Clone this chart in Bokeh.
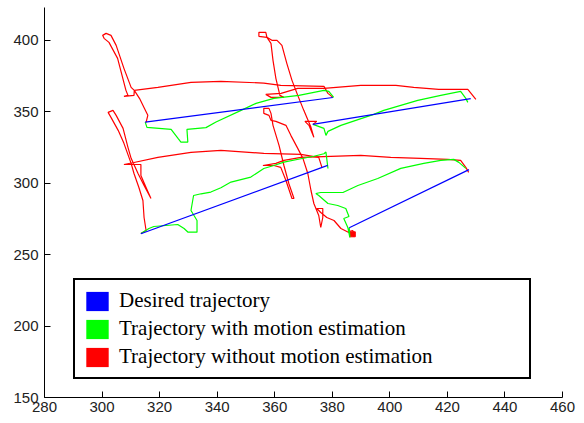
from bokeh.plotting import figure
from bokeh.models import Range1d, FixedTicker, Legend, LegendItem
from bokeh.embed import file_html
from bokeh.resources import INLINE

# ---------------- data ----------------
x_ticks = [280, 300, 320, 340, 360, 380, 400, 420, 440, 460]
y_ticks = [150, 200, 250, 300, 350, 400]

labels = ["Desired trajectory",
          "Trajectory with motion estimation",
          "Trajectory without motion estimation"]

# Desired trajectories (blue)
blue1_x = [315.0, 380.2]
blue1_y = [342.8, 360.0]
blue2_x = [373.2, 428.1]
blue2_y = [341.2, 359.2]
blue3_x = [313.5, 378.4]
blue3_y = [264.6, 312.5]
blue4_x = [385.9, 427.5]
blue4_y = [268.8, 309.5]

# Trajectories with motion estimation (green)
green1_x = [315.0, 315.6, 324.0, 326.4, 327.4, 329.8, 329.5, 336.1, 339.6, 348.3,
            353.5, 359.7, 368.4, 377.1, 378.8, 380.5]
green1_y = [342.8, 339.1, 337.7, 331.4, 328.8, 328.8, 337.7, 338.9, 342.8, 351.0,
            355.9, 359.4, 361.5, 365.0, 364.3, 360.1]
green2_x = [373.3, 377.1, 377.8, 378.5, 383.0, 394.4, 397.9, 409.7, 417.7, 424.6,
            426.4, 427.1]
green2_y = [341.2, 338.4, 333.5, 336.3, 340.5, 348.2, 351.0, 358.0, 361.5, 364.3,
            359.4, 356.6]
green3_x = [313.5, 316.3, 318.0, 326.3, 328.5, 329.9, 333.0, 333.0, 330.9, 331.8,
            334.4, 337.8, 341.3, 344.8, 351.7, 356.2, 359.7, 363.2, 369.1, 373.6,
            377.1, 377.8, 378.5]
green3_y = [264.8, 268.3, 269.7, 271.1, 268.3, 265.7, 265.7, 273.9, 280.9, 291.4,
            292.6, 293.8, 296.8, 300.8, 304.3, 310.3, 312.4, 314.8, 317.1, 318.9,
            320.6, 321.8, 310.3]
green4_x = [385.9, 386.1, 385.4, 384.0, 385.8, 384.7, 381.9, 378.5, 375.3, 374.3,
            376.0, 383.7, 388.9, 395.8, 403.8, 411.8, 417.7, 422.2, 424.0, 426.4]
green4_y = [268.8, 262.0, 269.0, 275.3, 276.7, 282.3, 284.4, 285.8, 291.4, 292.8,
            293.5, 293.5, 298.4, 303.3, 310.4, 313.9, 316.0, 316.7, 314.6, 310.4]

# Trajectories without motion estimation (red)
red1_x = [315.3, 315.9, 314.7, 313.0, 311.2, 310.1, 307.6, 304.9, 303.1, 301.4,
          300.2, 300.7, 302.4, 305.4, 308.3, 309.0, 307.6, 311.1, 311.2, 319.4,
          330.9, 341.3, 356.2, 362.1, 377.1, 378.5, 380.2]
red1_y = [342.6, 347.5, 352.4, 359.4, 365.0, 367.1, 380.4, 396.5, 403.5, 404.9,
          403.5, 401.4, 398.6, 387.4, 365.0, 361.5, 360.8, 361.5, 365.0, 367.1,
          370.6, 371.3, 370.1, 368.5, 367.8, 362.9, 360.1]
red2_x = [373.3, 374.6, 370.5, 371.9, 373.6, 372.6, 370.1, 368.0, 366.0, 364.2,
          362.5, 360.8, 359.0, 357.3, 356.9, 354.5, 354.5, 357.3, 358.7, 359.4,
          360.4, 361.8, 363.2, 358.7, 356.9, 362.2, 368.0, 377.1, 389.9, 402.1,
          408.3, 417.0, 427.1, 429.9]
red2_y = [341.2, 343.3, 343.3, 340.5, 332.1, 339.1, 351.0, 361.5, 372.0, 383.9,
          396.5, 400.0, 400.0, 402.1, 405.6, 405.6, 402.8, 402.1, 397.9, 386.0,
          373.4, 361.5, 360.1, 360.1, 362.2, 362.9, 366.4, 366.4, 368.5, 368.5,
          367.1, 365.7, 365.7, 358.7]
red3_x = [313.5, 315.3, 314.6, 314.2, 312.8, 311.1, 310.1, 307.6, 305.6, 303.1,
          302.1, 303.8, 304.9, 307.3, 309.0, 310.1, 312.5, 314.6, 317.0, 315.6,
          313.5, 313.5, 307.6, 311.1, 319.4, 330.9, 341.3, 356.2, 369.1, 375.3,
          376.4]
red3_y = [264.8, 266.9, 276.0, 287.9, 297.0, 306.8, 313.9, 327.9, 337.0, 346.1,
          349.6, 351.0, 347.5, 338.4, 325.1, 317.4, 306.8, 298.4, 289.3, 295.6,
          305.4, 313.1, 313.1, 314.5, 318.1, 321.6, 323.0, 320.9, 320.2, 318.1,
          311.1]
red4_x = [386.5, 387.5, 385.8, 387.1, 387.8, 383.0, 380.6, 378.1, 376.0, 374.6,
          376.7, 376.7, 376.0, 375.3, 373.6, 372.6, 371.5, 369.8, 368.0, 365.6,
          363.9, 360.4, 358.7, 358.0, 356.2, 356.2, 358.0, 358.7, 359.4, 361.5,
          363.2, 364.9, 366.7, 366.0, 363.9, 362.1, 359.7, 355.9, 360.4, 363.2,
          369.1, 389.9, 400.3, 410.7, 420.1, 424.6, 426.4, 427.4]
red4_y = [264.8, 262.7, 266.2, 266.9, 263.4, 268.3, 273.9, 276.0, 279.5, 282.3,
          282.3, 276.0, 269.0, 277.4, 285.8, 294.9, 306.8, 317.4, 324.4, 333.5,
          340.5, 343.3, 344.0, 347.5, 348.9, 352.4, 352.4, 348.9, 340.5, 326.5,
          312.4, 299.8, 289.3, 289.3, 301.9, 311.1, 312.4, 312.4, 313.9, 316.0,
          318.1, 319.5, 318.1, 317.4, 316.7, 316.0, 311.1, 307.6]
# small red clump at the start of the fourth run
red4_blob_x = [386.0, 388.0]
red4_blob_y = [262.5, 266.0]

BLUE, GREEN, RED = "#0000ff", "#00ff00", "#ff0000"

# ---------------- figure ----------------
p = figure(width=584, height=423,
           x_range=Range1d(280, 460), y_range=Range1d(150, 423),
           output_backend="svg", toolbar_location=None,
           min_border_left=44, min_border_right=22,
           min_border_top=7, min_border_bottom=26)
p.grid.visible = False
p.outline_line_color = None
p.background_fill_color = "white"
p.border_fill_color = "white"

for ax, ticks in ((p.xaxis[0], x_ticks), (p.yaxis[0], y_ticks)):
    ax.ticker = FixedTicker(ticks=ticks)
    ax.axis_line_color = "black"
    ax.axis_line_width = 1
    ax.major_tick_line_color = "black"
    ax.major_tick_in = 6
    ax.major_tick_out = 0
    ax.minor_tick_line_color = None
    ax.major_label_text_font = "Liberation Sans"
    ax.major_label_text_font_size = "15px"
    ax.major_label_text_color = "#222222"
p.xaxis[0].major_label_standoff = 4
p.yaxis[0].major_label_standoff = 6

LW = 1.2
for xs, ys in ((red1_x, red1_y), (red2_x, red2_y), (red3_x, red3_y), (red4_x, red4_y)):
    p.line(xs, ys, line_color=RED, line_width=LW)
p.quad(left=[red4_blob_x[0]], right=[red4_blob_x[1]],
       bottom=[red4_blob_y[0]], top=[red4_blob_y[1]],
       fill_color=RED, line_color=RED, line_width=1)
for xs, ys in ((green1_x, green1_y), (green2_x, green2_y),
               (green3_x, green3_y), (green4_x, green4_y)):
    p.line(xs, ys, line_color=GREEN, line_width=LW)
for xs, ys in ((blue1_x, blue1_y), (blue2_x, blue2_y),
               (blue3_x, blue3_y), (blue4_x, blue4_y)):
    p.line(xs, ys, line_color=BLUE, line_width=LW)

# legend swatches (filled squares); their own data lie outside the view
sw = []
for c in (BLUE, GREEN, RED):
    sw.append(p.quad(left=[0], right=[1], top=[1], bottom=[0],
                     fill_color=c, line_color=None))

legend = Legend(items=[LegendItem(label=l, renderers=[r]) for l, r in zip(labels, sw)],
                location=(29, 18),
                padding=8, spacing=3, margin=0,
                glyph_width=28, glyph_height=24,
                label_height=24, label_width=402, label_standoff=8,
                label_text_font="Liberation Serif", label_text_font_size="21px",
                label_text_color="black",
                border_line_color="black", border_line_width=2,
                border_line_alpha=1.0,
                background_fill_color="white", background_fill_alpha=1.0)
p.add_layout(legend)

open("out.html", "w").write(file_html(p, INLINE))
